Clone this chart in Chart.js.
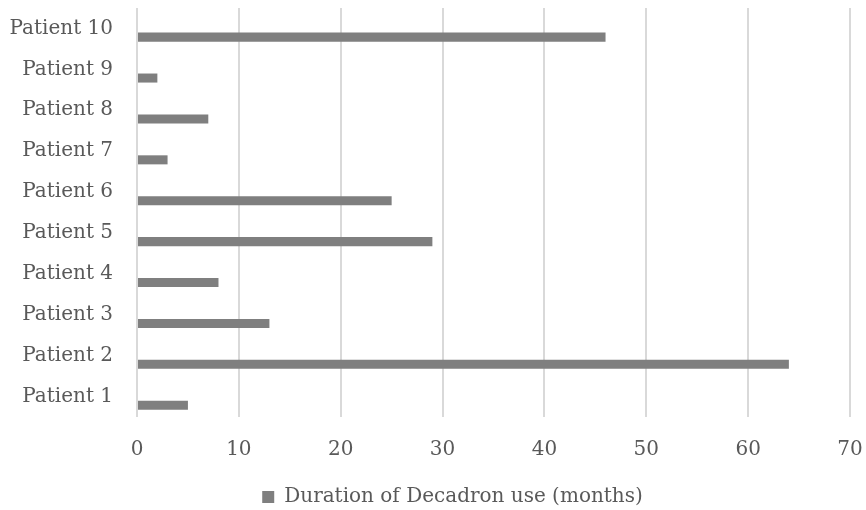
<!DOCTYPE html>
<html>
<head>
<meta charset="utf-8">
<script src="https://cdn.jsdelivr.net/npm/chart.js@4"></script>
<style>
    html, body { margin: 0; padding: 0; background: #fff; }
    #wrap { width: 866px; height: 510px; }
</style>
</head>
<body>
<div id="wrap"><canvas id="chart" width="866" height="510"></canvas></div>
<script>
// top to bottom, as in the picture
const patients = ['Patient 10', 'Patient 9', 'Patient 8', 'Patient 7', 'Patient 6',
    'Patient 5', 'Patient 4', 'Patient 3', 'Patient 2', 'Patient 1'];
const months = [46, 2, 7, 3, 25, 29, 8, 13, 64, 5];
const emptySeries = [null, null, null, null, null, null, null, null, null, null];
const xTicks = [0, 10, 20, 30, 40, 50, 60, 70];

const textColor = '#595959';
const font = { family: 'DejaVu Serif', size: 20 };

// legend sits a bit right of and below where Chart.js puts it
const legendShift = {
    id: 'legendShift',
    afterLayout(chart) {
        chart.legend.left += 16;
        chart.legend.right += 16;
        chart.legend.top += 7;
        chart.legend.bottom += 7;
    }
};

chartIt();

function chartIt() {
    const ctx = document.getElementById('chart').getContext('2d');

    const chartData = {
        labels: patients,
        datasets: [{
                // empty slot so the real bar sits in the lower half of each row
                label: '',
                data: emptySeries,
                backgroundColor: 'rgba(0,0,0,0)'
            },
            {
                label: 'Duration of Decadron use (months)',
                data: months,
                backgroundColor: '#7f7f7f',
                borderWidth: 0
            }
        ]
    };

    const options = {
        indexAxis: 'y',
        responsive: false,
        animation: false,
        categoryPercentage: 0.85,
        barPercentage: 0.52,
        layout: {
            padding: { left: 10, right: 3, top: 8, bottom: 0 }
        },
        scales: {
            x: {
                min: 0,
                max: 70,
                afterBuildTicks: axis => {
                    axis.ticks = xTicks.map(v => ({ value: v }));
                },
                afterFit: axis => {
                    axis.height -= 3;
                    axis.paddingLeft = 0;
                    axis.paddingRight = 16;
                },
                grid: { color: '#d9d9d9', lineWidth: 2, drawTicks: false },
                border: { display: false },
                ticks: { color: textColor, font: font, padding: 21 }
            },
            y: {
                afterFit: axis => {
                    axis.width = 127;
                    axis.paddingTop = 0;
                    axis.paddingBottom = 0;
                },
                grid: { display: false, drawTicks: false },
                border: { display: false },
                ticks: { color: textColor, font: font, padding: 24 }
            }
        },
        plugins: {
            legend: {
                position: 'bottom',
                labels: {
                    color: textColor,
                    font: font,
                    boxWidth: 12,
                    boxHeight: 12,
                    padding: 0,
                    filter: item => item.text !== ''
                }
            },
            tooltip: { enabled: false }
        }
    };

    window.myChart = new Chart(ctx, {
        type: 'bar',
        data: chartData,
        options: options,
        plugins: [legendShift]
    });
}
</script>
</body>
</html>
